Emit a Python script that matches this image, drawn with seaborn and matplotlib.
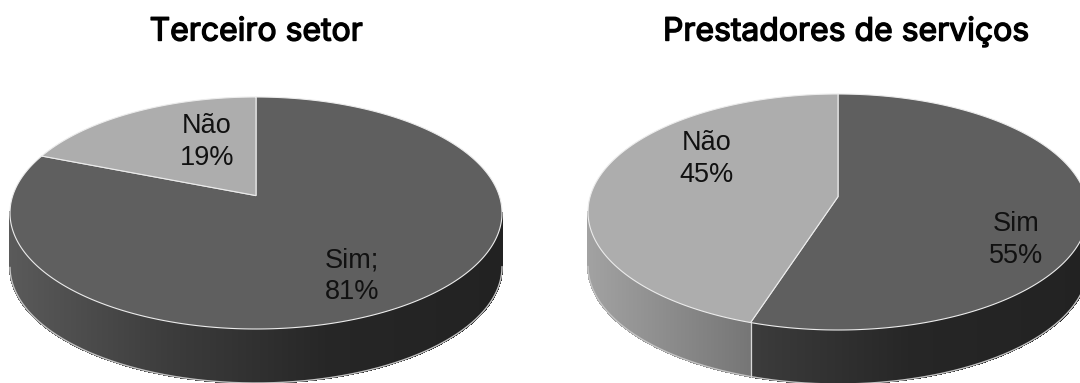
import numpy as np
import matplotlib
matplotlib.use("Agg")
import matplotlib.pyplot as plt
import matplotlib.patheffects as pe
from matplotlib.collections import PolyCollection
from matplotlib.path import Path
import seaborn as sns

# Survey answers per sector
sectors = ["Terceiro setor", "Prestadores de serviços"]
answers = ["Sim", "Não"]
shares_terceiro = [81, 19]
shares_prestadores = [55, 45]
label_seps = [[";\n", "\n"], ["\n", "\n"]]

W, H = 1080, 383
sns.set_theme(style="white")
plt.rcParams["font.family"] = ["Liberation Sans", "DejaVu Sans"]

top_colors = sns.color_palette(["#5f5f5f", "#adadad"])
# grey level on the rim wall, sampled left to right across the disc
wall_x = [-1.0, -0.35, 0.3, 1.0]
wall_levels = [(0x5a, 0x3c, 0x26, 0x22), (0xa2, 0x76, 0x60, 0x50)]

# pixel boxes of each disc top: left, right, top, bottom, tilt of the hub, wall height
boxes = [(10, 502, 97, 329, 0.15, 54), (588, 1088, 94, 330, 0.13, 54)]
label_px = [[(352, 276), (207, 142)], [(1016, 240), (707, 159)]]
title_px = [(256, 32), (846, 32)]


def tilt(theta_deg, radius, a):
    """Projective view of a flat disc: the rim stays an ellipse, the hub moves back."""
    t = np.radians(theta_deg)
    u, v = radius * np.cos(t), radius * np.sin(t)
    w = 1 + a * v
    return u * np.sqrt(1 - a * a) / w, (v + a) / w


fig = plt.figure(figsize=(W / 100, H / 100), dpi=100, facecolor="white")

for idx, shares in enumerate([shares_terceiro, shares_prestadores]):
    left, right, top, bottom, a, depth = boxes[idx]
    ax = fig.add_axes([left / W, 1 - bottom / H, (right - left) / W, (bottom - top) / H])
    wedges, _ = ax.pie(shares, colors=top_colors, startangle=90, counterclock=False,
                       radius=1, wedgeprops=dict(edgecolor="#ececec", linewidth=0.8))
    ax.set_aspect("auto")
    ax.set_xlim(-1, 1)
    ax.set_ylim(-1, 1)
    ax.axis("off")
    dy = depth / ((bottom - top) / 2)

    for k, w in enumerate(wedges):
        # outer wall of the slice, as narrow vertical strips
        angles = np.linspace(w.theta1, w.theta2, 721)
        xs, ys = tilt(angles, 1.0, a)
        polys, shades = [], []
        for i in range(len(angles) - 1):
            if ys[i] > 0 and ys[i + 1] > 0:
                continue
            polys.append([(xs[i], ys[i]), (xs[i + 1], ys[i + 1]),
                          (xs[i + 1], ys[i + 1] - dy), (xs[i], ys[i] - dy)])
            g = np.interp((xs[i] + xs[i + 1]) / 2, wall_x, wall_levels[k]) / 255
            shades.append((g, g, g))
        if polys:
            ax.add_collection(PolyCollection(polys, facecolors=shades, edgecolors=shades,
                                             linewidths=0.8, antialiaseds=False,
                                             clip_on=False, zorder=0.5))
            # pale lower edge of the wall
            front = np.array([p[2] for p in polys])
            ax.plot(front[:, 0], front[:, 1], color="#c4c4c4", lw=1.0, clip_on=False, zorder=0.6)

        # slice top follows the tilted view
        rx, ry = tilt(np.linspace(w.theta1, w.theta2, 361), 1.0, a)
        hx, hy = tilt(0.0, 0.0, a)
        verts = np.column_stack([np.r_[hx, rx, hx], np.r_[hy, ry, hy]])
        codes = [Path.MOVETO] + [Path.LINETO] * (len(verts) - 2) + [Path.CLOSEPOLY]
        w._path = Path(verts, codes)
        w.set_clip_on(False)
        w.set_zorder(2)

    # light seam where the two walls meet at the front
    sx, sy = tilt(wedges[0].theta1, 1.0, a)
    if sy < 0:
        ax.plot([sx, sx], [sy, sy - dy], color="#d8d8d8", lw=0.9, clip_on=False, zorder=1)

    fig.text(title_px[idx][0] / W, 1 - title_px[idx][1] / H, sectors[idx],
             ha="center", va="center", fontsize=23, family=["Inter", "DejaVu Sans"],
             color="black",
             path_effects=[pe.withStroke(linewidth=1.0, foreground="black")])
    for k, name in enumerate(answers):
        px, py = label_px[idx][k]
        fig.text(px / W, 1 - py / H, f"{name}{label_seps[idx][k]}{shares[k]}%",
                 ha="center", va="center", fontsize=19.5, color="#111111", linespacing=1.27,
                 zorder=5)

fig.savefig("out.png", dpi=100, facecolor="white")
